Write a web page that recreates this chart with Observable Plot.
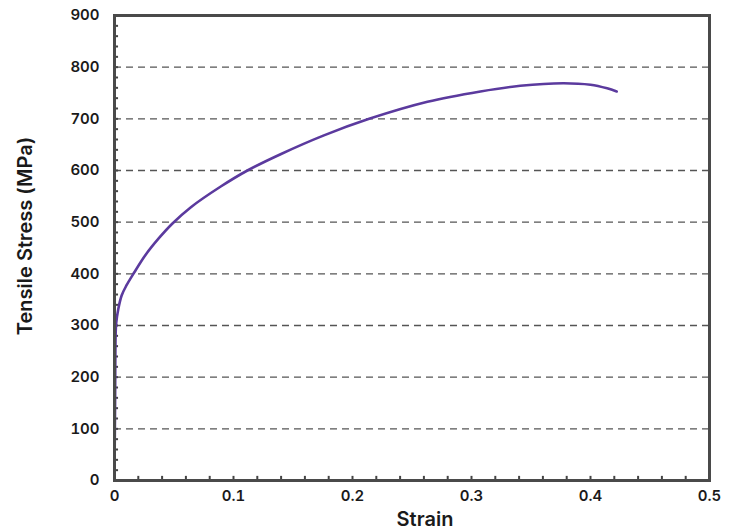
<!DOCTYPE html>
<html><head><meta charset="utf-8">
<script src="https://cdn.jsdelivr.net/npm/d3@7"></script>
<script src="https://cdn.jsdelivr.net/npm/@observablehq/plot@0.6"></script>
<style>
body{margin:0;background:#fff;}
</style></head>
<body><div id="chart"></div>
<script>
const strain = [0, 0.0005, 0.001, 0.0015, 0.0032, 0.006, 0.0099, 0.0164, 0.0262, 0.0373, 0.0485, 0.0642, 0.0893, 0.1117, 0.14, 0.176, 0.214, 0.263, 0.3075, 0.341, 0.377, 0.4, 0.414, 0.422];
const stress = [19, 150, 287, 306, 332, 358, 377, 402, 437, 469, 497, 529, 569, 600, 632, 668, 700, 733, 753, 764, 769, 766, 759, 753];
const xTicks = [0, 0.1, 0.2, 0.3, 0.4, 0.5];
const yTicks = [0, 100, 200, 300, 400, 500, 600, 700, 800, 900];
const gridValues = [100, 200, 300, 400, 500, 600, 700, 800];
const xMinor = d3.range(0, 0.5001, 0.02);
const yMinor = d3.range(0, 901, 20);
const xLabel = "Strain";
const yLabel = "Tensile Stress (MPa)";

const data = strain.map((s, i) => ({strain: s, stress: stress[i]}));
const font = 'Inter, "Liberation Sans", Arial, sans-serif';

const chart = Plot.plot({
  width: 734,
  height: 531,
  marginLeft: 114,
  marginRight: 25,
  marginTop: 15,
  marginBottom: 51,
  style: {fontFamily: font, background: "#fff", overflow: "visible"},
  x: {domain: [0, 0.5]},
  y: {domain: [0, 900]},
  marks: [
    Plot.gridY(gridValues, {stroke: "#555", strokeOpacity: 1, strokeWidth: 1.3, strokeDasharray: "7,5"}),
    Plot.ruleX(xMinor, {y1: 0, y2: 8, stroke: "#444", strokeWidth: 2}),
    Plot.ruleY(yMinor, {x1: 0, x2: 0.0034, stroke: "#444", strokeWidth: 2}),
    Plot.axisX(xTicks, {tickSize: 0, tickPadding: 10, fontSize: 15, fontWeight: 600, fill: "#1a1a1a",
      tickFormat: d => String(d), label: null}),
    Plot.axisY(yTicks, {tickSize: 0, tickPadding: 15, fontSize: 15, fontWeight: 600, fill: "#1a1a1a", label: null}),
    Plot.line(data, {x: "strain", y: "stress", stroke: "#5b3a9e", strokeWidth: 2.6, curve: "catmull-rom"}),
    Plot.frame({stroke: "#4a4a4a", strokeWidth: 3}),
    Plot.text([xLabel], {frameAnchor: "bottom", textAnchor: "middle", lineAnchor: "middle", dx: 13, dy: 39, fontSize: 20, fontWeight: 600, fill: "#1a1a1a", text: d => d}),
    Plot.text([yLabel], {frameAnchor: "left", textAnchor: "middle", lineAnchor: "middle", rotate: -90, dx: -89, dy: -12, fontSize: 20, fontWeight: 600, fill: "#1a1a1a", text: d => d})
  ]
});
document.getElementById("chart").appendChild(chart);
</script></body></html>
